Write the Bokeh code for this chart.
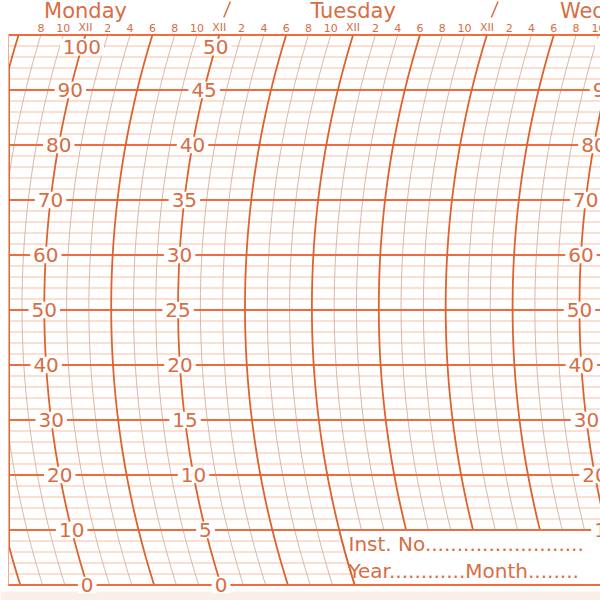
import numpy as np
from bokeh.plotting import figure
from bokeh.models import Range1d
from bokeh.core.properties import value
from bokeh.embed import file_html
from bokeh.resources import INLINE

# ---------------- data ----------------
days = ["Monday", "Tuesday", "Wednesday"]
day_noon_hours = [12, 36, 60]
day_break_hours = [24, 48]
hour_tick_hours = list(range(8, 60, 2))
hour_tick_labels = ["8", "10", "XII", "2", "4", "6",
                    "8", "10", "XII", "2", "4", "6",
                    "8", "10", "XII", "2", "4", "6",
                    "8", "10", "XII", "2", "4", "6",
                    "8", "10"]
scale_main = [100, 90, 80, 70, 60, 50, 40, 30, 20, 10, 0]
scale_half = [50, 45, 40, 35, 30, 25, 20, 15, 10, 5, 0]
label_column_hours = [12, 24, 60]
label_column_scales = [scale_main, scale_half, scale_main]
minor_step = 2
major_step = 10
arc_minor_step = 2
arc_major_step = 6
box_hour = 36
box_top = 10
box_lines = ["Inst. No" + "." * 25, "Year" + "." * 12 + "Month" + "." * 8]

# ---------------- layout constants ----------------
W, H = 600, 600
PXH = 11.15       # px per hour
PXV = 5.5         # px per scale unit
R = 920.0         # arc radius in px
VC = 50.5         # value at arc vertex
NOON_X = 85.0     # px of Monday noon at the top edge
ZERO_Y = 584.5    # px of value 0

XS = 12 - NOON_X / PXH
XE = XS + W / PXH
YE = ZERO_Y / PXV
YS = YE - H / PXV

def off(v):
    d = (np.asarray(v, dtype=float) - VC) * PXV
    return R - np.sqrt(R * R - d * d)

def arc_x(h, v):
    return h - (off(100) - off(v)) / PXH

def v_of_px(y):
    return (ZERO_Y - y) / PXV

def h_of_px(x):
    return 12 + (x - NOON_X) / PXH

TEXT = "#d86d44"
MAJ_H = "#f26b3a"
MAJ_A = "#dc6330"
MIN_H = "#f7c0a4"
MIN_A = "#d6b8a8"
FONT = value("DejaVu Sans")

p = figure(width=W, height=H, x_range=Range1d(XS, XE), y_range=Range1d(YS, YE),
           output_backend="svg", toolbar_location=None, min_border=0,
           x_axis_location=None, y_axis_location=None,
           background_fill_color="white", border_fill_color="white",
           outline_line_color=None)
p.grid.visible = False

# bottom paper edge tint
p.quad(left=[XS], right=[XE], bottom=[YS], top=[v_of_px(591)],
       fill_color="#f9efe8", line_color=None)

# horizontal lines
vals = np.arange(0, 101, minor_step)
minor_v = [v for v in vals if v % major_step != 0]
major_v = [v for v in vals if v % major_step == 0]
LEFT = h_of_px(8)
p.multi_line(xs=[[LEFT, XE]] * len(minor_v), ys=[[v, v] for v in minor_v],
             line_color=MIN_H, line_width=1)

# arcs
vs = np.linspace(0, 100, 101)
arc_hours = list(range(2, 66, arc_minor_step))
minor_arcs = [h for h in arc_hours if h % arc_major_step != 0]
major_arcs = [h for h in arc_hours if h % arc_major_step == 0]

def clip_arc(h):
    xs = arc_x(h, vs)
    m = xs >= LEFT
    return list(xs[m]), list(vs[m])

mi = [clip_arc(h) for h in minor_arcs]
mi = [a for a in mi if len(a[0]) > 1]
p.multi_line(xs=[a[0] for a in mi], ys=[a[1] for a in mi], line_color=MIN_A, line_width=1)
p.multi_line(xs=[[LEFT, XE]] * len(major_v), ys=[[v, v] for v in major_v],
             line_color=MAJ_H, line_width=1.8)
ma = [clip_arc(h) for h in major_arcs]
ma = [a for a in ma if len(a[0]) > 1]
p.multi_line(xs=[a[0] for a in ma], ys=[a[1] for a in ma], line_color=MAJ_A, line_width=1.8)

# left border
p.line(x=[LEFT] * 2, y=[0, 100], line_color="#f2ad90", line_width=1)

# information box (bottom right)
bv = np.linspace(0, box_top, 21)
bx = list(arc_x(box_hour, bv)) + [XE + 1, XE + 1]
by = list(bv) + [box_top, 0]
p.patch(x=bx, y=by, fill_color="white", line_color=None)
p.multi_line(xs=[[float(arc_x(box_hour, box_top)), XE], [LEFT, XE]], ys=[[box_top, box_top], [0, 0]],
             line_color=MAJ_H, line_width=1.8)
p.line(x=list(arc_x(box_hour, bv)), y=list(bv), line_color=MAJ_A, line_width=1.8)
p.text(x=[h_of_px(348)] * 2, y=[v_of_px(543), v_of_px(570)], text=box_lines,
       text_font=FONT, text_font_size="20px", text_color=TEXT,
       text_align="left", text_baseline="middle")

# scale labels on arcs
LBL_SIZE = 20
cap = 0.729 * LBL_SIZE
lx, ly, lt, lw = [], [], [], []
for h, sc in zip(label_column_hours, label_column_scales):
    for m, s in zip(scale_main, sc):
        vcen = min(m, 97.8)
        lx.append(float(arc_x(h, vcen)))
        ly.append(vcen)
        lt.append(str(s))
        lw.append(len(str(s)) * 0.636 * LBL_SIZE + 6)
p.rect(x=lx, y=ly, width=lw, height=[cap + 2] * len(lx), width_units="screen",
       height_units="screen", fill_color="white", line_color=None)
p.text(x=lx, y=ly, text=lt, text_font=FONT, text_font_size=f"{LBL_SIZE}px",
       text_color=TEXT, text_align="center", text_baseline="middle")

# hour tick labels
p.text(x=hour_tick_hours, y=[v_of_px(27)] * len(hour_tick_hours), text=hour_tick_labels,
       text_font=FONT, text_font_size="11px", text_color=TEXT,
       text_align="center", text_baseline="middle")

# day labels
p.text(x=day_noon_hours, y=[v_of_px(10)] * len(days), text=days,
       text_font=FONT, text_font_size="21px", text_color=TEXT,
       text_align="center", text_baseline="middle")

# day separators
p.multi_line(xs=[[h + 0.4, h + 1.0] for h in day_break_hours],
             ys=[[v_of_px(17), v_of_px(1)]] * len(day_break_hours),
             line_color=TEXT, line_width=1.5)

open("out.html", "w").write(file_html(p, INLINE))
